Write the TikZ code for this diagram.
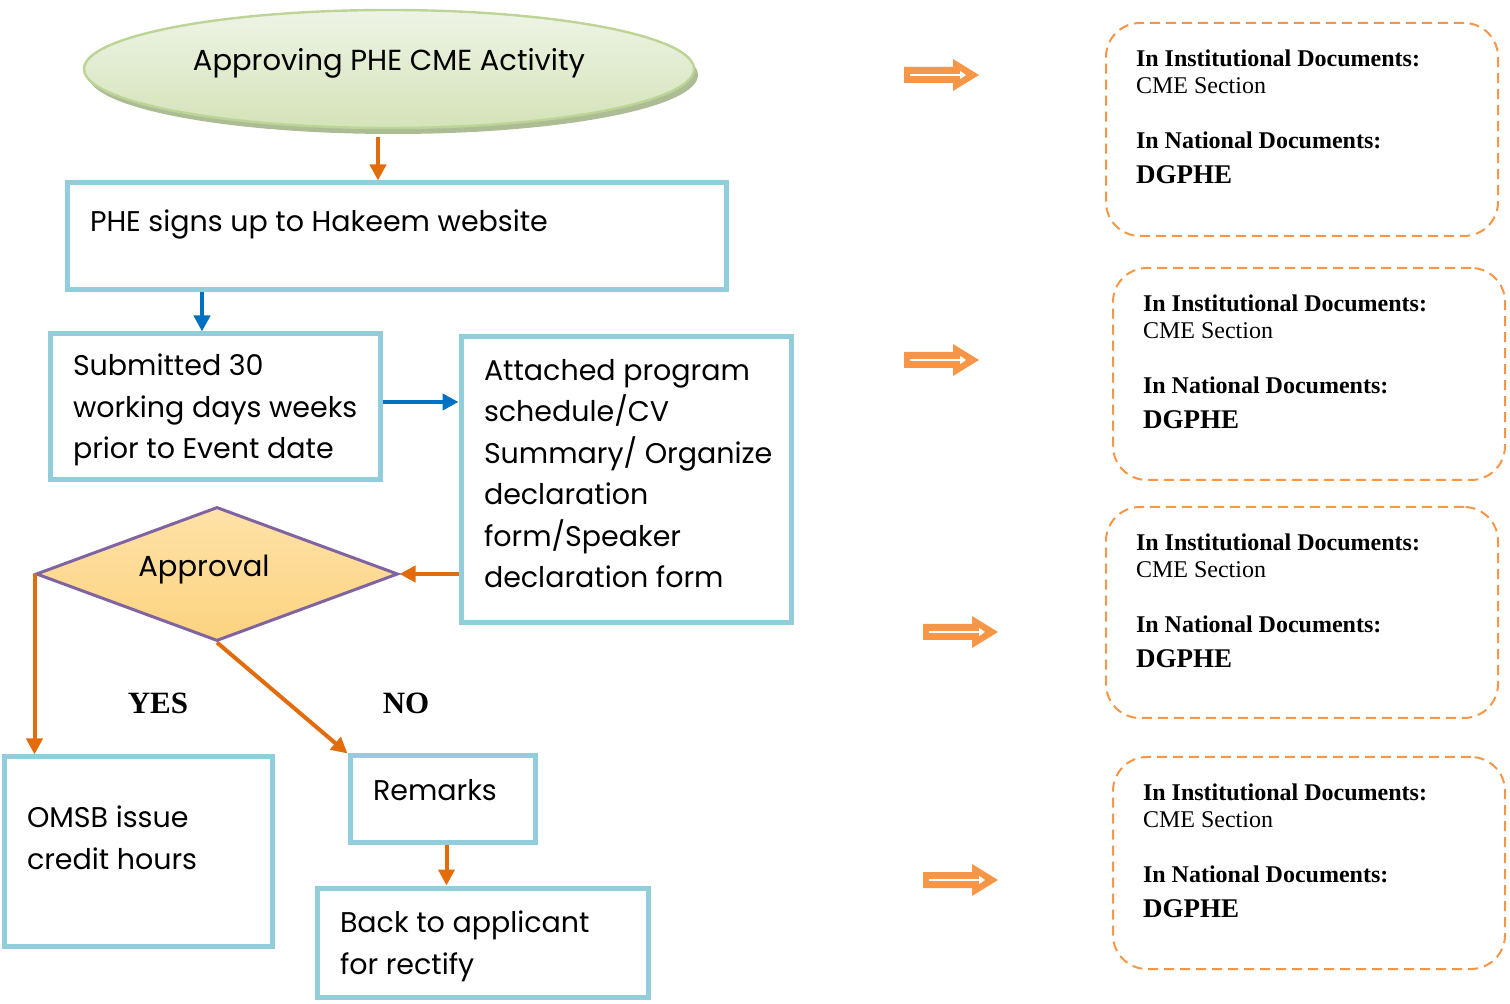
\documentclass[tikz,border=0pt]{standalone}
\usepackage{fontspec}
\setmainfont{Poppins}
\newfontfamily\docfont{Liberation Serif}
\usetikzlibrary{arrows.meta,shapes.geometric,shadows}

\definecolor{boxblue}{HTML}{92CDDC}
\definecolor{flowred}{HTML}{E36C0A}
\definecolor{flowblue}{HTML}{0070C0}
\definecolor{docorange}{HTML}{F79646}
\definecolor{ovalline}{HTML}{BCD496}
\definecolor{ovaltop}{HTML}{EEF4E6}
\definecolor{ovalbot}{HTML}{D4E3B8}
\definecolor{ovalshadow}{HTML}{A3B58A}
\definecolor{gatetop}{HTML}{FEE2A8}
\definecolor{gatebot}{HTML}{FCD37F}
\definecolor{gateline}{HTML}{8064A2}

\newcommand{\boxtext}[3]{\parbox[c][#2][t]{#1}{\raggedright #3}}
\newcommand{\doclines}{\textbf{In Institutional Documents:}\\ CME Section\\[14pt]
  \textbf{In National Documents:}\\[4pt] {\fontsize{13.5}{15}\selectfont\textbf{DGPHE}}}

\tikzset{
  flowbox/.style={draw=boxblue, line width=2.5pt, inner xsep=11.5pt, fill=white,
    font=\fontsize{14.25}{20.75}\selectfont},
  flowarrow/.style={draw=flowred, line width=2pt, -{Triangle[length=8pt,width=8pt]}},
  bluearrow/.style={flowarrow, draw=flowblue},
  docbox/.style={draw=docorange, dash pattern=on 5pt off 3pt, line width=1pt,
    rounded corners=17pt, inner xsep=15pt, inner ysep=13.5pt,
    font=\docfont\fontsize{12}{13.5}\selectfont},
  answer/.style={font=\docfont\bfseries\fontsize{15.5}{18}\selectfont}
}

\begin{document}
\begin{tikzpicture}[x=0.5pt,y=-0.5pt]
    \useasboundingbox (0,0) rectangle (1510,1004);

    % left: the flow
    \node[ellipse, draw=ovalline, line width=1.2pt, top color=ovaltop, bottom color=ovalbot,
          minimum width=305pt, minimum height=59pt,
          drop shadow={shadow xshift=2pt, shadow yshift=-3pt, fill=ovalshadow, opacity=0.9},
          label={[font=\fontsize{14.5}{17}\selectfont, yshift=3pt]center:Approving PHE CME Activity}]
          (activity) at (389,69) {};

    \node[flowbox, inner ysep=13.5pt] (signup) at (396.5,236.5)
          {\boxtext{306.5pt}{26.5pt}{\mbox{PHE signs up to Hakeem website}}};
    \node[flowbox, inner ysep=10pt] (submit) at (215,407)
          {\boxtext{142pt}{53pt}{\mbox{Submitted 30}\\ \mbox{working days weeks}\\ \mbox{prior to Event date}}};
    \node[flowbox, inner ysep=11pt] (attach) at (626,480)
          {\boxtext{142pt}{121pt}{\mbox{Attached program}\\ \mbox{schedule/CV}\\ \mbox{Summary/ Organize}\\
           \mbox{declaration}\\ \mbox{form/Speaker}\\ \mbox{declaration form}}};

    \node[diamond, draw=gateline, line width=1.5pt, top color=gatetop, bottom color=gatebot,
          minimum width=181pt, minimum height=67pt, inner sep=0pt,
          label={[font=\fontsize{14.5}{17}\selectfont, xshift=-6.5pt, yshift=2pt]center:Approval}]
          (approval) at (217,574) {};

    \node[answer] (yes) at (158,703) {YES};
    \node[answer] (no) at (406,703) {NO};

    \node[flowbox, inner ysep=24.5pt] (omsb) at (138,851.5)
          {\boxtext{111pt}{45.5pt}{\mbox{OMSB issue}\\ \mbox{credit hours}}};
    \node[flowbox, inner ysep=11.5pt] (remarks) at (442.5,799)
          {\boxtext{69.5pt}{20pt}{\mbox{Remarks}}};
    \node[flowbox, inner ysep=11.5pt] (back) at (482.5,942.5)
          {\boxtext{142.5pt}{31.5pt}{\mbox{Back to applicant}\\ \mbox{for rectify}}};

    \draw[flowarrow, shorten <=4pt] ([xshift=-5.5pt]activity.south) -- ([xshift=-5.5pt]activity.south |- signup.north);
    \draw[bluearrow] ([xshift=-6.5pt]submit.north |- signup.south) -- ([xshift=-6.5pt]submit.north);
    \draw[bluearrow] ([yshift=2.5pt]submit.east) -- ([yshift=2.5pt]submit.east -| attach.west);
    \draw[flowarrow] (attach.west |- approval.east) -- (approval.east);
    \draw[flowarrow] (approval.west) -- (approval.west |- omsb.north);
    \draw[flowarrow] (approval.south) -- (remarks.north west);
    \draw[flowarrow] ([xshift=2pt]remarks.south) -- ([xshift=2pt]remarks.south |- back.north);

    % right: where it is recorded
    \foreach \ax/\ay in {904/75, 904/360, 923/632, 923/880} {
        \fill[docorange] (\ax,\ay-8) -- (\ax+49,\ay-8) -- (\ax+49,\ay-16) -- (\ax+75,\ay)
            -- (\ax+49,\ay+16) -- (\ax+49,\ay+8) -- (\ax,\ay+8) -- cycle;
        \draw[white, line width=1pt, -{Triangle[length=3pt,width=4pt]}] (\ax+6,\ay) -- (\ax+62,\ay);
    }

    \node[docbox] (doc1) at (1302,129.5) {\boxtext{166pt}{79.5pt}{\doclines}};
    \node[docbox] (doc2) at (1309,374) {\boxtext{166pt}{79pt}{\doclines}};
    \node[docbox] (doc3) at (1302,612.5) {\boxtext{166pt}{78.5pt}{\doclines}};
    \node[docbox] (doc4) at (1309,863) {\boxtext{166pt}{79pt}{\doclines}};
\end{tikzpicture}
\end{document}
